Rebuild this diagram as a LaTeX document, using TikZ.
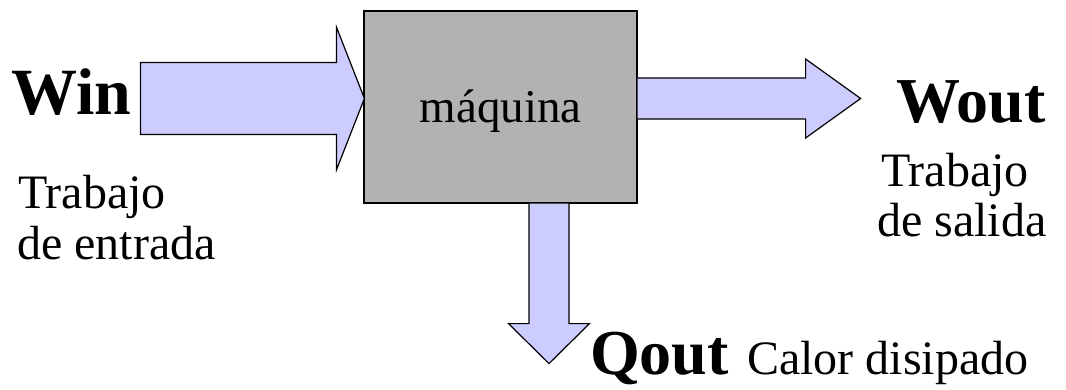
\documentclass[tikz,border=0pt]{standalone}
\usepackage{fontspec}
\setmainfont{Liberation Serif}
\usetikzlibrary{calc}

\begin{document}
\begin{tikzpicture}[x=1pt,y=-1pt,
  flow/.style={draw=black,line width=1.2pt,fill=flowblue,line join=miter},
  machine/.style={draw=black,line width=1.2pt,fill=boxgray,minimum width=273pt,minimum height=192pt,inner sep=0pt},
  bigbold/.style={font=\fontsize{64}{64}\selectfont\bfseries,inner sep=0pt},
  plain/.style={font=\fontsize{48}{48}\selectfont,inner sep=0pt}]
  \definecolor{flowblue}{HTML}{CCCCFF}
  \definecolor{boxgray}{HTML}{B2B2B2}
  \useasboundingbox (0,0) rectangle (1066,390);

  % the machine
  \node[machine] (maq) at (500.5,107) {};
  \node[plain,font=\fontsize{47}{47}\selectfont,anchor=base] (maqtext) at (500.5,123) {máquina};

  % input work arrow, pointing into the machine
  \coordinate (inTip) at ($(maq.west)+(1,-8.5)$);
  \draw[flow] ($(inTip)+(-224,-36)$) -- ($(inTip)+(-28,-36)$) -- ($(inTip)+(-28,-71.5)$)
    -- (inTip) -- ($(inTip)+(-28,71.5)$) -- ($(inTip)+(-28,36)$) -- ($(inTip)+(-224,36)$) -- cycle;

  % output work arrow
  \coordinate (outBase) at ($(maq.east)+(0,-8.5)$);
  \draw[flow] ($(outBase)+(0,-20.5)$) -- ($(outBase)+(168,-20.5)$) -- ($(outBase)+(168,-39.5)$)
    -- ($(outBase)+(223,0)$) -- ($(outBase)+(168,39.5)$) -- ($(outBase)+(168,20.5)$) -- ($(outBase)+(0,20.5)$);

  % dissipated heat arrow
  \coordinate (heatBase) at ($(maq.south)+(48.5,0)$);
  \draw[flow] ($(heatBase)+(-20,0)$) -- ($(heatBase)+(-20,120)$) -- ($(heatBase)+(-40.5,120)$)
    -- ($(heatBase)+(0,160)$) -- ($(heatBase)+(40.5,120)$) -- ($(heatBase)+(20,120)$) -- ($(heatBase)+(20,0)$);

  % labels
  \node[bigbold,font=\fontsize{66}{66}\selectfont\bfseries,anchor=base west] (win) at (11,115) {Win};
  \node[plain,anchor=base west] (ent1) at (18,209) {Trabajo};
  \node[plain,anchor=base west] (ent2) at (17,260) {de entrada};

  \node[bigbold,anchor=base west] (wout) at (896,123) {Wout};
  \node[plain,anchor=base west] (sal1) at (881,187) {Trabajo};
  \node[plain,anchor=base west] (sal2) at (877,237) {de salida};

  \node[bigbold,anchor=base west] (qout) at (590,374) {Qout};
  \node[plain,anchor=base west] (qtext) at (747,374) {Calor disipado};
\end{tikzpicture}
\end{document}
